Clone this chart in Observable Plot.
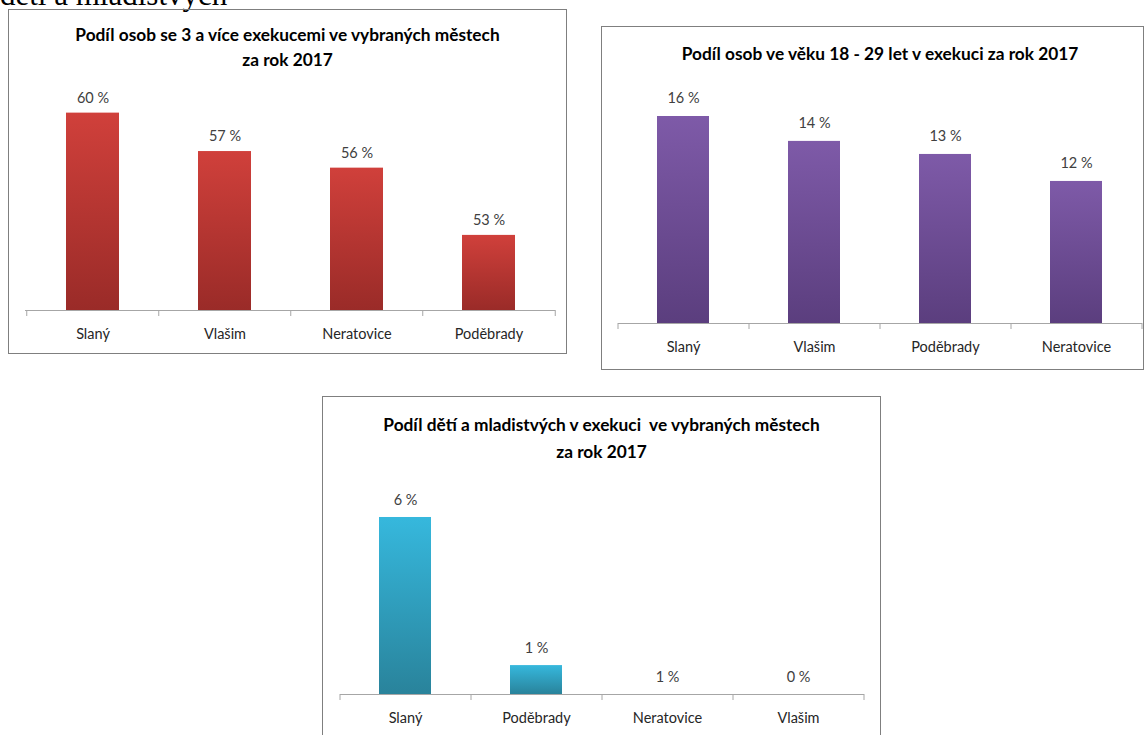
<!DOCTYPE html>
<html><head><meta charset="utf-8">
<script src="https://cdn.jsdelivr.net/npm/d3@7"></script>
<script src="https://cdn.jsdelivr.net/npm/@observablehq/plot@0.6"></script>
<style>
html,body{margin:0;padding:0;background:#fff;overflow:hidden;}
#page{position:relative;width:1148px;height:735px;overflow:hidden;background:#fff;}
.box{position:absolute;border:1px solid #7f7f7f;box-sizing:border-box;}
.title{position:absolute;text-align:center;font-family:Lato, "Open Sans", sans-serif;font-weight:700;font-size:17.3px;color:#000;white-space:pre;}
.chart{position:absolute;}
.chart svg{overflow:visible;}
.head{position:absolute;left:0;top:-21px;font-family:"Liberation Serif","DejaVu Serif",serif;font-size:31px;line-height:32px;color:#000;white-space:nowrap;}
</style></head><body><div id="page"></div>
<script>
// ---- data ----
const heading = "dětí a mladistvých";

const title1 = ["Podíl osob se 3 a více exekucemi ve vybraných městech", "za rok 2017"];
const cities1 = ["Slaný", "Vlašim", "Neratovice", "Poděbrady"];
const values1 = [59.6, 57.4, 56.45, 52.6];
const labels1 = ["60 %", "57 %", "56 %", "53 %"];

const title2 = ["Podíl osob ve věku 18 - 29 let v exekuci za rok 2017"];
const cities2 = ["Slaný", "Vlašim", "Poděbrady", "Neratovice"];
const values2 = [15.88, 14.22, 13.35, 11.55];
const labels2 = ["16 %", "14 %", "13 %", "12 %"];

const title3 = ["Podíl dětí a mladistvých v exekuci  ve vybraných městech", "za rok 2017"];
const cities3 = ["Slaný", "Poděbrady", "Neratovice", "Vlašim"];
const values3 = [6.0, 0.98, 0, 0];
const labels3 = ["6 %", "1 %", "1 %", "0 %"];

// ---- layout helpers ----
const page = document.getElementById("page");

function addDiv(cls, style, html) {
  const d = document.createElement("div");
  d.className = cls;
  Object.assign(d.style, style);
  if (html != null) d.textContent = html;
  page.appendChild(d);
  return d;
}

function barChart(c) {
  const n = c.cities.length;
  const step = (c.width - c.ml - c.mr) / n;
  const base = c.domain[0];
  const data = c.cities.map((city, i) => ({city, value: c.values[i], label: c.labels[i]}));
  const axisColor = "#a6a6a6";
  const svg = Plot.plot({
    width: c.width, height: c.height,
    marginLeft: c.ml, marginRight: c.mr, marginTop: c.mt, marginBottom: c.mb,
    style: {fontFamily: "Lato, 'Open Sans', sans-serif", fontSize: "14px", color: "#404040", background: "transparent", overflow: "visible"},
    x: {domain: c.cities, paddingInner: 0.6, paddingOuter: 0.3, label: null},
    y: {domain: c.domain, axis: null, label: null},
    marks: [
      Plot.barY(data, {x: "city", y1: () => base, y2: "value", fill: `url(#${c.id})`}),
      Plot.ruleY([base], {stroke: axisColor, strokeWidth: 1}),
      Plot.axisX({tickSize: 6, dx: -step / 2, tickFormat: () => "", stroke: axisColor, label: null}),
      Plot.axisX({ticks: [c.cities[n - 1]], tickSize: 6, dx: step / 2, tickFormat: () => "", stroke: axisColor, label: null}),
      Plot.axisX({tickSize: 0, tickPadding: 18, fontSize: 14.5, fill: "#262626", label: null}),
      Plot.text(data, {x: "city", y: "value", text: "label", dy: c.ldy, fill: "#404040", fontSize: 14.5})
    ]
  });
  const defs = d3.select(svg).insert("defs", ":first-child");
  const g = defs.append("linearGradient").attr("id", c.id)
    .attr("x1", 0).attr("y1", 0).attr("x2", 0).attr("y2", 1);
  g.append("stop").attr("offset", "0%").attr("stop-color", c.grad[0]);
  g.append("stop").attr("offset", "100%").attr("stop-color", c.grad[1]);
  const holder = addDiv("chart", {left: c.left + "px", top: c.top + "px"});
  holder.appendChild(svg);
}

// heading (cut off at top, as in the source page)
addDiv("head", {}, heading);

// chart 1
addDiv("box", {left: "8px", top: "9px", width: "559px", height: "345px"});
addDiv("title", {left: "8px", top: "22px", width: "559px", lineHeight: "25px"}, title1.join("\n"));
barChart({id: "g1", cities: cities1, values: values1, labels: labels1, ldy: -15,
  left: 9, top: 90, width: 556, height: 262, ml: 16, mr: 10, mt: 20, mb: 42,
  domain: [48.3, 59.75], grad: ["#d0403b", "#9a2b28"]});

// chart 2
addDiv("box", {left: "601px", top: "26px", width: "543px", height: "344px"});
addDiv("title", {left: "620px", top: "41px", width: "520px", lineHeight: "25px"}, title2.join("\n"));
barChart({id: "g2", cities: cities2, values: values2, labels: labels2, ldy: -18,
  left: 602, top: 90, width: 541, height: 278, ml: 16, mr: 1, mt: 20, mb: 45,
  domain: [2.08, 16.28], grad: ["#7e5aa8", "#5b3e7e"]});

// chart 3
addDiv("box", {left: "322px", top: "396px", width: "559px", height: "400px"});
addDiv("title", {left: "322px", top: "411px", width: "559px", lineHeight: "27px"}, title3.join("\n"));
barChart({id: "g3", cities: cities3, values: values3, labels: labels3, ldy: -17,
  left: 322, top: 470, width: 556, height: 265, ml: 18, mr: 14, mt: 20, mb: 41,
  domain: [0, 6.915], grad: ["#36b8dd", "#29839b"]});
</script>
</body></html>
